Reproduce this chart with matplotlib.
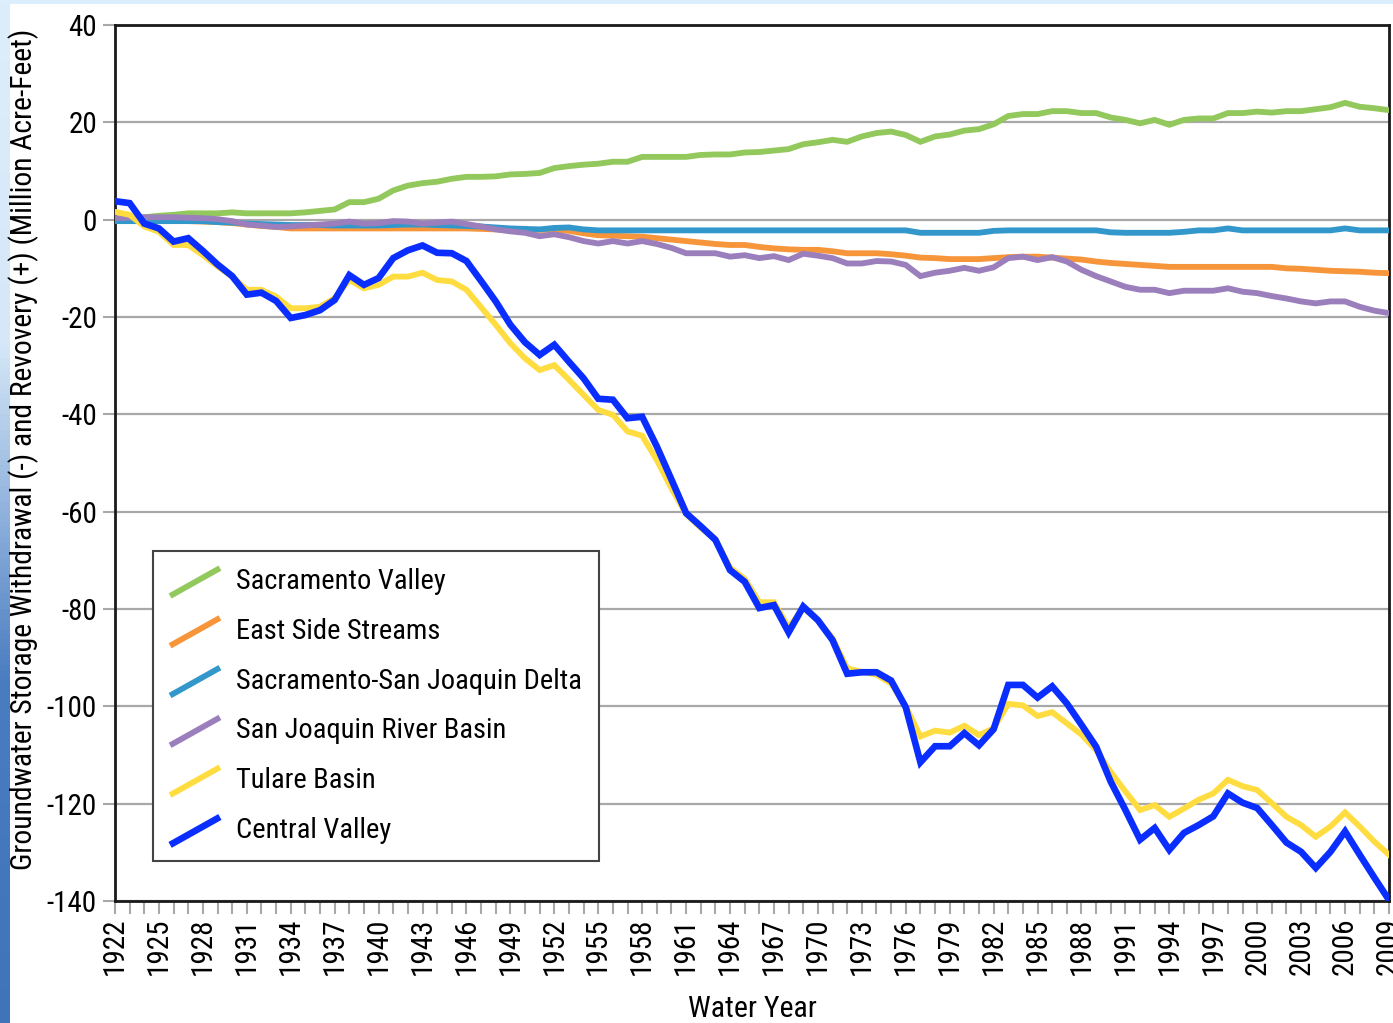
#!/usr/bin/env python3

import numpy as np
import matplotlib
matplotlib.use("Agg")
import matplotlib.pyplot as plt
from matplotlib import font_manager
from matplotlib.lines import Line2D
from matplotlib.legend_handler import HandlerLine2D
from matplotlib.colors import LinearSegmentedColormap

# water years 1922..2009
years = np.arange(1922, 2010)

sacramento_valley = [
    0.2, 0.2, 0.5, 0.8, 1.0, 1.3, 1.3, 1.3, 1.5, 1.3,
    1.3, 1.3, 1.3, 1.5, 1.8, 2.1, 3.6, 3.6, 4.3, 6.0,
    7.0, 7.5, 7.8, 8.4, 8.8, 8.8, 8.9, 9.3, 9.4, 9.6,
    10.6, 11.0, 11.3, 11.5, 11.9, 11.9, 12.9, 12.9, 12.9, 12.9,
    13.3, 13.4, 13.4, 13.8, 13.9, 14.2, 14.5, 15.5, 15.9, 16.4,
    16.0, 17.1, 17.8, 18.1, 17.4, 16.0, 17.1, 17.5, 18.3, 18.6,
    19.6, 21.3, 21.7, 21.7, 22.3, 22.3, 21.9, 21.9, 21.0, 20.5,
    19.8, 20.5, 19.5, 20.5, 20.8, 20.8, 21.9, 21.9, 22.2, 22.0,
    22.3, 22.3, 22.7, 23.1, 24.0, 23.2, 22.9, 22.5,
]

east_side_streams = [
    0.0, 0.0, -0.1, -0.2, -0.2, -0.3, -0.4, -0.5, -0.7, -1.0,
    -1.3, -1.5, -1.8, -1.8, -1.8, -1.8, -1.8, -1.8, -1.8, -1.8,
    -1.8, -1.8, -1.8, -1.8, -1.8, -1.9, -2.0, -2.0, -2.1, -2.1,
    -2.1, -2.3, -2.8, -3.2, -3.3, -3.4, -3.5, -3.8, -4.1, -4.4,
    -4.7, -5.0, -5.2, -5.2, -5.6, -5.9, -6.1, -6.2, -6.2, -6.5,
    -6.9, -6.9, -6.9, -7.1, -7.4, -7.8, -7.9, -8.1, -8.1, -8.1,
    -7.9, -7.7, -7.6, -7.6, -7.8, -8.0, -8.2, -8.6, -8.9, -9.1,
    -9.3, -9.5, -9.7, -9.7, -9.7, -9.7, -9.7, -9.7, -9.7, -9.7,
    -10.0, -10.1, -10.3, -10.5, -10.6, -10.7, -10.9, -11.0,
]

delta = [
    -0.3, -0.3, -0.3, -0.3, -0.3, -0.3, -0.3, -0.5, -0.6, -0.8,
    -0.9, -1.0, -1.1, -1.1, -1.1, -1.2, -1.2, -1.2, -1.2, -1.1,
    -1.0, -1.0, -1.1, -1.2, -1.3, -1.4, -1.6, -1.8, -1.9, -2.0,
    -1.7, -1.6, -2.0, -2.2, -2.2, -2.2, -2.2, -2.2, -2.2, -2.2,
    -2.2, -2.2, -2.2, -2.2, -2.2, -2.2, -2.2, -2.2, -2.2, -2.2,
    -2.2, -2.2, -2.2, -2.2, -2.2, -2.7, -2.7, -2.7, -2.7, -2.7,
    -2.3, -2.2, -2.2, -2.2, -2.2, -2.2, -2.2, -2.2, -2.6, -2.7,
    -2.7, -2.7, -2.7, -2.5, -2.2, -2.2, -1.8, -2.2, -2.2, -2.2,
    -2.2, -2.2, -2.2, -2.2, -1.8, -2.2, -2.2, -2.2,
]

san_joaquin = [
    0.3, 0.4, 0.5, 0.5, 0.5, 0.4, 0.3, 0.1, -0.3, -1.0,
    -1.2, -1.5, -1.4, -1.2, -1.0, -0.8, -0.4, -0.8, -0.7, -0.3,
    -0.4, -0.8, -0.6, -0.4, -0.9, -1.4, -2.0, -2.4, -2.7, -3.4,
    -3.0, -3.6, -4.4, -4.9, -4.4, -4.9, -4.4, -5.0, -5.8, -6.9,
    -6.9, -6.9, -7.6, -7.3, -7.9, -7.5, -8.3, -7.0, -7.4, -7.9,
    -9.0, -9.0, -8.5, -8.6, -9.3, -11.6, -10.9, -10.5, -9.9, -10.5,
    -9.8, -7.9, -7.6, -8.3, -7.7, -8.6, -10.3, -11.6, -12.7, -13.8,
    -14.4, -14.4, -15.1, -14.6, -14.6, -14.6, -14.1, -14.8, -15.1, -15.7,
    -16.2, -16.8, -17.2, -16.8, -16.8, -17.9, -18.7, -19.2,
]

tulare = [
    1.6, 1.0, -1.4, -2.5, -5.2, -5.2, -7.3, -9.6, -11.7, -14.4,
    -14.4, -15.8, -18.2, -18.2, -17.9, -16.1, -12.4, -14.1, -13.4, -11.7,
    -11.7, -10.9, -12.4, -12.7, -14.4, -18.0, -21.6, -25.4, -28.5, -30.9,
    -29.9, -32.9, -36.0, -39.1, -40.1, -43.5, -44.4, -49.4, -55.2, -60.5,
    -63.3, -65.6, -71.5, -73.8, -78.6, -78.6, -83.8, -79.8, -82.3, -86.0,
    -92.2, -92.9, -93.5, -95.3, -100.0, -106.2, -105.0, -105.4, -104.0, -105.9,
    -104.5, -99.5, -99.8, -102.0, -101.2, -103.5, -105.8, -109.0, -113.5, -117.5,
    -121.3, -120.3, -122.7, -121.0, -119.2, -117.9, -115.1, -116.4, -117.2, -119.9,
    -122.7, -124.4, -126.8, -124.7, -121.8, -124.7, -127.8, -130.5,
]

central_valley = [
    3.8, 3.4, -0.8, -1.8, -4.5, -3.8, -6.4, -9.2, -11.6, -15.4,
    -15.0, -16.7, -20.2, -19.6, -18.6, -16.5, -11.4, -13.4, -12.0, -7.9,
    -6.3, -5.3, -6.8, -6.9, -8.5, -12.6, -16.8, -21.6, -25.2, -27.8,
    -25.7, -29.2, -32.6, -36.8, -37.0, -40.8, -40.5, -46.6, -53.4, -60.3,
    -63.0, -65.8, -72.0, -74.4, -79.8, -79.2, -84.8, -79.5, -82.3, -86.4,
    -93.3, -93.0, -93.0, -94.7, -100.2, -111.5, -108.2, -108.2, -105.5, -108.0,
    -104.7, -95.6, -95.6, -98.2, -95.9, -99.4, -103.8, -108.3, -115.5, -121.3,
    -127.4, -125.0, -129.5, -126.0, -124.4, -122.6, -117.9, -119.8, -120.9, -124.4,
    -128.0, -129.9, -133.2, -129.9, -125.7, -130.5, -135.2, -139.8,
]

series = [
    ("Sacramento Valley", sacramento_valley, "#92c85c", 4.2),
    ("East Side Streams", east_side_streams, "#f7953b", 4.2),
    ("Sacramento-San Joaquin Delta", delta, "#3298cb", 4.2),
    ("San Joaquin River Basin", san_joaquin, "#9a7fbc", 4.2),
    ("Tulare Basin", tulare, "#ffdc40", 4.2),
    ("Central Valley", central_valley, "#0a2eff", 4.8),
]


def pick_font():
    # want a regular-weight condensed face; fall back to DejaVu condensed
    fonts = font_manager.fontManager.ttflist
    for cand in ["Liberation Sans Narrow", "Roboto Condensed", "Open Sans Condensed",
                 "DejaVu Sans Condensed"]:
        for f in fonts:
            if f.name == cand and f.style == "normal" and f.weight in (400, "normal", "regular"):
                return cand, "normal"
    for f in fonts:
        if f.name == "DejaVu Sans" and "Condensed" in f.fname and "Bold" not in f.fname \
                and "Oblique" not in f.fname:
            return "DejaVu Sans", "condensed"
    return "DejaVu Sans", "normal"


class DiagonalHandler(HandlerLine2D):
    # legend swatch drawn as a slanted stroke
    def create_artists(self, legend, orig_handle, xdescent, ydescent,
                       width, height, fontsize, trans):
        x0, x1 = -xdescent, -xdescent + width
        y0, y1 = -ydescent - 0.35 * height, -ydescent + 1.05 * height
        line = Line2D([x0, x1], [y0, y1])
        self.update_prop(line, orig_handle, legend)
        line.set_solid_capstyle("butt")
        line.set_transform(trans)
        return [line]


def main():
    family, stretch = pick_font()
    plt.rcParams["font.family"] = [family, "DejaVu Sans"]
    plt.rcParams["font.stretch"] = stretch
    plt.rcParams["font.weight"] = "normal"

    fig = plt.figure(figsize=(13.93, 10.23), dpi=100)
    fig.patch.set_facecolor("white")

    # light blue slide frame on the left edge and top
    cmap = LinearSegmentedColormap.from_list("frame", ["#dcedfb", "#d6e8f8", "#4a7cc0", "#3f74bb"])
    bar = fig.add_axes([0, 0, 10 / 1393, 1])
    bar.imshow(np.linspace(0, 1, 200).reshape(-1, 1), aspect="auto", cmap=cmap,
               extent=(0, 1, 0, 1), origin="upper")
    bar.set_axis_off()
    top = fig.add_axes([0, 1 - 4 / 1023, 1, 4 / 1023])
    top.set_facecolor("#dcedfb")
    top.set_xticks([])
    top.set_yticks([])
    for s in top.spines.values():
        s.set_visible(False)

    ax = fig.add_axes([115 / 1393, 1 - 901 / 1023, 1274 / 1393, 876 / 1023])

    handles = []
    for name, vals, color, lw in series:
        ln, = ax.plot(years, vals, color=color, lw=lw, label=name,
                      solid_joinstyle="miter", zorder=3)
        handles.append(ln)

    ax.set_xlim(1922, 2009)
    ax.set_ylim(-140, 40)
    ax.set_yticks(np.arange(-140, 41, 20))
    ax.set_yticklabels([str(v) for v in range(-140, 41, 20)])
    ax.set_xticks(np.arange(1922, 2010, 3))
    ax.set_xticks(np.arange(1922, 2010, 1), minor=True)
    ax.set_xticklabels([str(y) for y in range(1922, 2010, 3)], rotation=90)

    ax.grid(axis="y", color="#a8a8a8", lw=1.6, zorder=1)
    ax.set_axisbelow(True)

    for s in ax.spines.values():
        s.set_color("#1a1a1a")
        s.set_linewidth(2.0)

    ax.tick_params(axis="y", which="major", direction="out", length=9, width=1.5,
                   color="#a8a8a8", labelsize=21, pad=4)
    ax.tick_params(axis="x", which="both", direction="out", length=9, width=1.5,
                   color="#a8a8a8", labelsize=21, pad=3)

    ax.set_xlabel("Water Year", fontsize=21.5, labelpad=14)
    ax.set_ylabel("Groundwater Storage Withdrawal (-) and Revovery (+) (Million Acre-Feet)",
                  fontsize=21.3)
    ax.yaxis.set_label_coords(-0.0595, 0.516)

    leg = ax.legend(handles=handles, loc="lower left",
                    bbox_to_anchor=(38 / 1274, 40 / 876), borderaxespad=0,
                    handler_map={Line2D: DiagonalHandler()},
                    fontsize=20.5, frameon=True, fancybox=False,
                    handlelength=1.75, handletextpad=0.55, labelspacing=0.8,
                    borderpad=0.6)
    leg.get_frame().set_edgecolor("#444444")
    leg.get_frame().set_linewidth(1.5)
    leg.get_frame().set_facecolor("white")
    leg.get_frame().set_alpha(1)
    leg.set_zorder(5)

    fig.savefig("out.png", dpi=100, facecolor=fig.get_facecolor())


if __name__ == "__main__":
    main()
